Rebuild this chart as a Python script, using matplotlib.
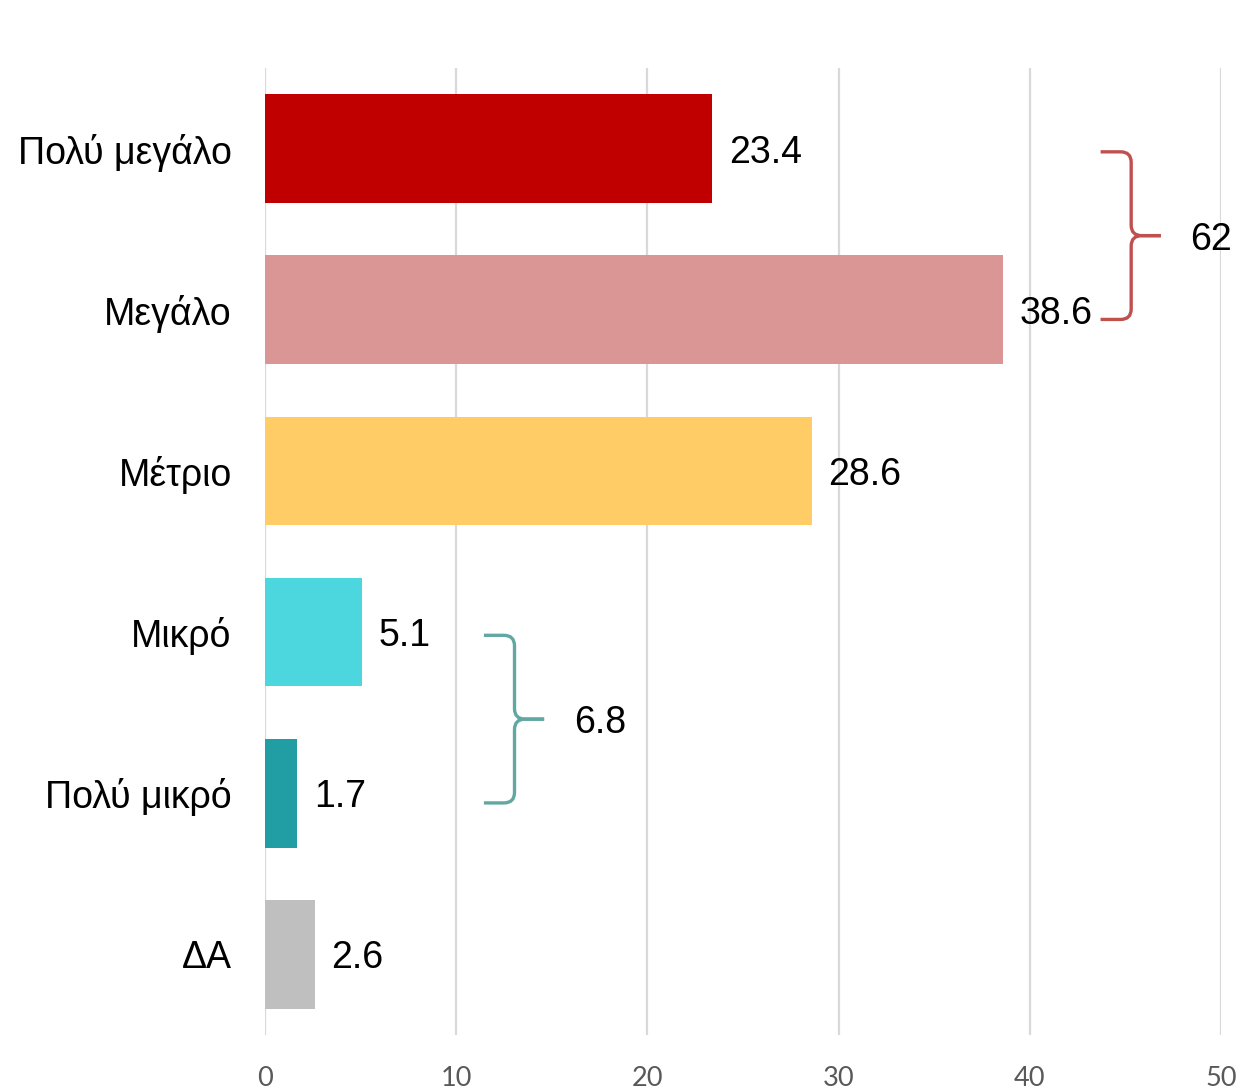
import numpy as np
from matplotlib import pyplot as plt
from matplotlib.path import Path
from matplotlib.patches import PathPatch

# Data
categories = ['Πολύ μεγάλο', 'Μεγάλο', 'Μέτριο', 'Μικρό', 'Πολύ μικρό', 'ΔΑ']
values = [23.4, 38.6, 28.6, 5.1, 1.7, 2.6]
colors = ['#c00000', '#d99694', '#ffcc66', '#4bd7dd', '#209ea3', '#bfbfbf']
xticks = [0, 10, 20, 30, 40, 50]

# Grouped totals shown with braces: (first index, last index, total label)
group_top = (0, 1, '62')
group_bottom = (3, 4, '6.8')

plt.rcParams['font.family'] = ['Liberation Sans', 'DejaVu Sans']

fig = plt.figure(figsize=(12.37, 10.92), dpi=100)
ax = fig.add_axes([0.2142, 0.0522, 0.7729, 0.8855])

y = np.arange(len(categories))
ax.barh(y, values, height=0.675, color=colors, zorder=3)

for yi, v in zip(y, values):
    ax.text(v + 0.85, yi, f'{v}', va='center_baseline', ha='left', fontsize=27, zorder=4)

ax.set_xlim(0, 50)
ax.set_ylim(len(categories) - 0.5, -0.5)
ax.set_yticks(y)
ax.set_yticklabels(categories, fontsize=27)
ax.set_xticks(xticks)
ax.set_xticklabels([str(t) for t in xticks], fontsize=19.5, color='#595959', family=['Lato', 'DejaVu Sans'])
ax.tick_params(axis='y', length=0, pad=24)
ax.tick_params(axis='x', length=0, pad=22)
for s in ax.spines.values():
    s.set_visible(False)
ax.xaxis.grid(True, color='#d9d9d9', linewidth=1.6, zorder=0)
ax.set_axisbelow(True)


def brace(ax, i0, i1, x0, color, label):
    # curly brace from bar i0 to bar i1, opening to the left
    rx, ry = 0.55, 0.065
    xm = x0 + 1.6
    xt = xm + 1.55
    yt = i0 + 0.02
    yb = i1 + 0.06
    ym = (yt + yb) / 2
    M, L, C = Path.MOVETO, Path.LINETO, Path.CURVE3
    for ye, sgn in [(yt, 1), (yb, -1)]:
        verts = [(x0, ye), (xm - rx, ye), (xm, ye), (xm, ye + sgn * ry),
                 (xm, ym - sgn * ry), (xm, ym), (xm + rx, ym), (xt, ym)]
        codes = [M, L, C, C, L, C, C, L]
        ax.add_patch(PathPatch(Path(verts, codes), fill=False, edgecolor=color,
                               linewidth=2.4, capstyle='butt', joinstyle='round',
                               clip_on=False, zorder=5))
    ax.text(xt + 1.55, ym, label, va='center_baseline', ha='left', fontsize=27, clip_on=False)


brace(ax, group_top[0], group_top[1], max(values[group_top[0]:group_top[1] + 1]) + 5.1,
      '#c0504d', group_top[2])
brace(ax, group_bottom[0], group_bottom[1], max(values[group_bottom[0]:group_bottom[1] + 1]) + 6.35,
      '#62a8a2', group_bottom[2])

fig.savefig('out.png', dpi=100)
